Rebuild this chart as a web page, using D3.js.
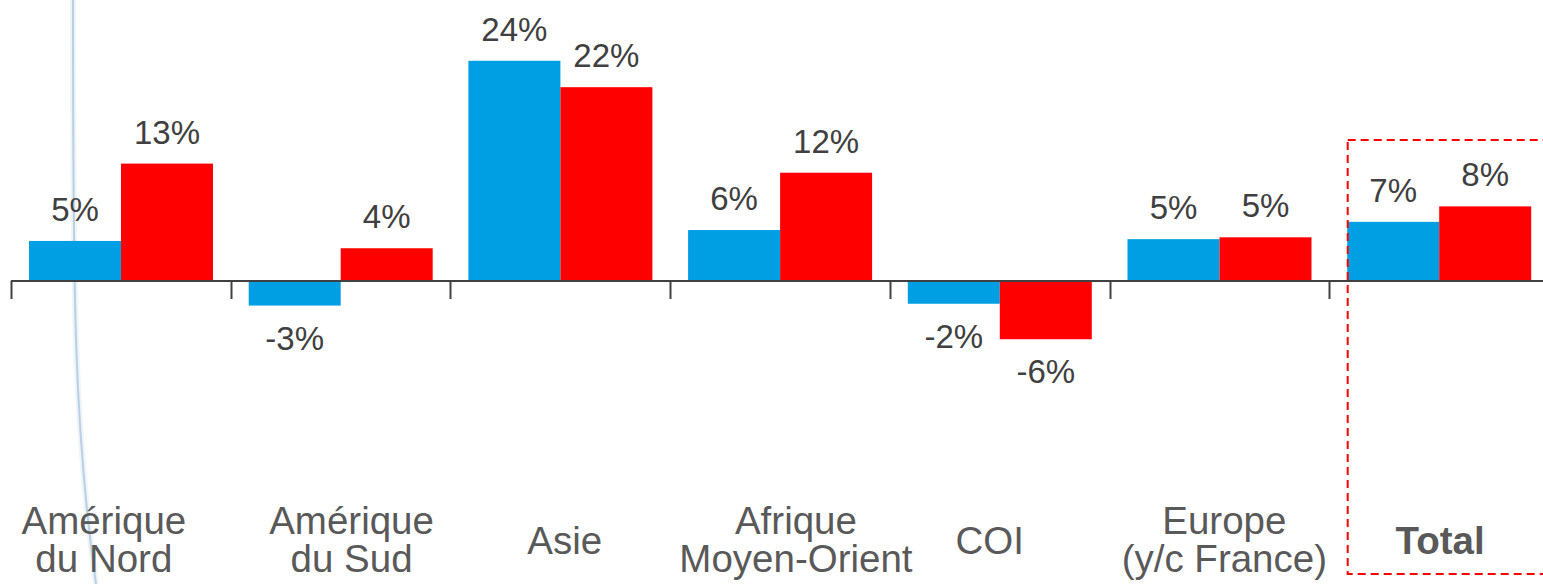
<!DOCTYPE html>
<html>
<head>
<meta charset="utf-8">
<script src="https://cdn.jsdelivr.net/npm/d3@7"></script>
<style>
  html, body { margin: 0; padding: 0; background: #fff; overflow: hidden; }
  svg { display: block; }
</style>
</head>
<body>
<svg id="chart" width="1543" height="584"></svg>
<script>
// ---- data ----
const categories = ["Amérique du Nord", "Amérique du Sud", "Asie", "Afrique Moyen-Orient", "COI", "Europe (y/c France)", "Total"];
const categoryLines = [["Amérique", "du Nord"], ["Amérique", "du Sud"], ["Asie"], ["Afrique", "Moyen-Orient"], ["COI"], ["Europe", "(y/c France)"], ["Total"]];
const series = ["s1", "s2"];
const blueValues = [4.4, -2.7, 24.2, 5.6, -2.5, 4.6, 6.5];
const redValues = [12.9, 3.6, 21.3, 11.9, -6.4, 4.8, 8.2];
const blueLabels = ["5%", "-3%", "24%", "6%", "-2%", "5%", "7%"];
const redLabels = ["13%", "4%", "22%", "12%", "-6%", "5%", "8%"];
const highlighted = "Total";

// ---- layout ----
const W = 1543, H = 584;
const labelShift = [-17, 11, 4.5, 16, -10, 5, 1];
const svg = d3.select("#chart");
const colors = { s1: "#009FE3", s2: "#FF0000" };

const x = d3.scaleBand().domain(categories).range([11, 11 + 7 * 219.7]).paddingInner(0).paddingOuter(0);
const xs = d3.scaleBand().domain(series).range([18, 18 + 2 * 92]).padding(0);
const y = d3.scaleLinear().domain([-10, 30]).range([372, 8]);
const y0 = y(0);

const rows = categories.map((c, i) => ({
  cat: c,
  items: [
    { s: "s1", v: blueValues[i], label: blueLabels[i] },
    { s: "s2", v: redValues[i], label: redLabels[i] }
  ]
}));

// decorative curve
const curve = "M73,0 C73,300 74,430 96,584";
svg.append("path").attr("d", curve)
  .attr("fill", "none").attr("stroke", "#eef4f9").attr("stroke-width", 6);
svg.append("path").attr("d", curve)
  .attr("fill", "none").attr("stroke", "#b9d0e3").attr("stroke-width", 2);

// bars
const g = svg.append("g").selectAll("g").data(rows).join("g")
  .attr("transform", d => `translate(${x(d.cat)},0)`);

g.selectAll("rect").data(d => d.items).join("rect")
  .attr("x", d => xs(d.s))
  .attr("width", xs.bandwidth())
  .attr("y", d => Math.min(y(d.v), y0))
  .attr("height", d => Math.abs(y(d.v) - y0))
  .attr("fill", d => colors[d.s]);

g.selectAll("text.val").data(d => d.items).join("text")
  .attr("class", "val")
  .attr("x", d => xs(d.s) + xs.bandwidth() / 2)
  .attr("y", d => d.v >= 0 ? y(d.v) - 20 : y(d.v) + 44)
  .attr("text-anchor", "middle")
  .attr("font-family", "Liberation Sans, Arial, sans-serif")
  .attr("font-size", 33)
  .attr("fill", "#404040")
  .text(d => d.label);

// axis line and ticks at category boundaries
svg.append("line")
  .attr("x1", x.range()[0]).attr("x2", W)
  .attr("y1", y0).attr("y2", y0)
  .attr("stroke", "#404040").attr("stroke-width", 2);
svg.append("g").selectAll("line").data(categories).join("line")
  .attr("x1", d => Math.round(x(d)) + 0.5).attr("x2", d => Math.round(x(d)) + 0.5)
  .attr("y1", y0).attr("y2", y0 + 18)
  .attr("stroke", "#404040").attr("stroke-width", 2);

// category labels
const lab = svg.append("g").selectAll("text").data(categories).join("text")
  .attr("text-anchor", "middle")
  .attr("font-family", "Liberation Sans, Arial, sans-serif")
  .attr("font-size", 38.5)
  .attr("font-weight", d => d === highlighted ? "bold" : "normal")
  .attr("fill", "#595959");
lab.each(function(d, i) {
  const lines = categoryLines[i];
  const cx = x(d) + x.bandwidth() / 2 + labelShift[i];
  const base = lines.length === 1 ? 554 : 534;
  d3.select(this).selectAll("tspan").data(lines).join("tspan")
    .attr("x", cx)
    .attr("y", (l, j) => base + j * 38)
    .text(l => l);
});

// highlight box around Total
svg.append("rect")
  .attr("x", x(highlighted) + 18.5)
  .attr("y", 140)
  .attr("width", 260)
  .attr("height", 434)
  .attr("fill", "none")
  .attr("stroke", "#FF0000")
  .attr("stroke-width", 2)
  .attr("stroke-dasharray", "8,5");
</script>
</body>
</html>
